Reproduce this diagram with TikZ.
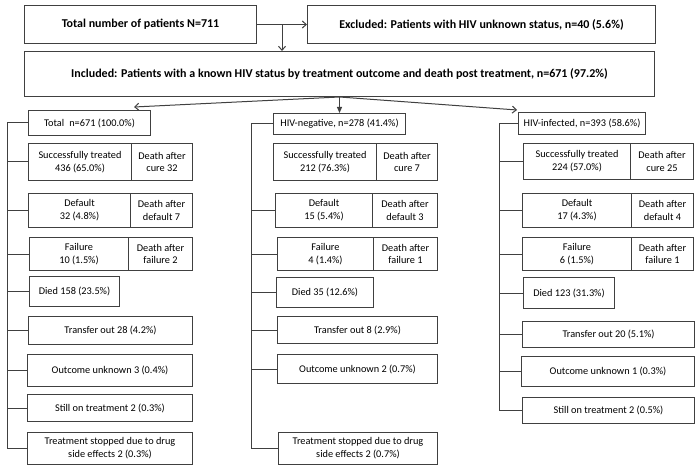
\documentclass[tikz,border=0pt]{standalone}
\usepackage{fontspec}
\setmainfont{Carlito}
\usetikzlibrary{arrows.meta,calc}
\definecolor{ln}{HTML}{404040}
\tikzset{
  box/.style={draw=ln, line width=1pt, anchor=north west, inner sep=1pt, align=center,
              font=\fontsize{10.3}{12.8}\selectfont, text=black},
  topbox/.style={box, font=\fontsize{12}{14}\selectfont\bfseries},
  conn/.style={draw=ln, line width=1pt},
  openarrow/.style={conn, -{Straight Barb[length=4pt,width=7pt]}},
  solidarrow/.style={conn, -{Triangle[length=6pt,width=5pt]}}
}
\newcommand\mybox[7]{\node[#1, minimum width={(#5-#3)*1pt}, minimum height={(#6-#4)*1pt}] (#2) at (#3,#4) {#7};}
\begin{document}
\begin{tikzpicture}[x=1pt,y=-1pt]
\useasboundingbox (0,0) rectangle (700,470);
% top
\mybox{topbox}{A}{24}{5}{256}{43}{Total number of patients N=711}
\mybox{topbox}{B}{307}{5}{655}{43}{Excluded: Patients with HIV unknown status, n=40 (5.6\%)}
\mybox{topbox}{C}{24}{51}{654}{96}{Included: Patients with a known HIV status by treatment outcome and death post treatment, n=671 (97.2\%)}
\draw[openarrow] (A.east) -- (B.west);
\coordinate (j) at ($(A.east)!0.5!(B.west)$);
\draw[openarrow] (j) -- (j |- C.north);
% left column
\mybox{box}{tot}{28}{110}{150}{135}{Total\enspace n=671 (100.0\%)}
\mybox{box}{Lsl}{28}{143}{131}{180}{Successfully treated\\436 (65.0\%)}
\mybox{box}{Lsr}{131}{143}{192}{180}{Death after\\cure 32}
\mybox{box}{Ldl}{28}{193}{130}{227}{Default\\32 (4.8\%)}
\mybox{box}{Ldr}{130}{193}{192}{227}{Death after\\default 7}
\mybox{box}{Lfl}{29}{237}{128}{270}{Failure\\10 (1.5\%)}
\mybox{box}{Lfr}{128}{237}{192}{270}{Death after\\failure 2}
\mybox{box}{Ldi}{29}{276}{119}{306}{Died 158 (23.5\%)}
\mybox{box}{Ltr}{28}{316}{192}{344}{Transfer out 28 (4.2\%)}
\mybox{box}{Lun}{27}{354}{192}{386}{Outcome unknown 3 (0.4\%)}
\mybox{box}{Lst}{27}{394}{192}{421}{Still on treatment 2 (0.3\%)}
\mybox{box}{Lsp}{27}{432}{192}{464}{Treatment stopped due to drug\\side effects 2 (0.3\%)}
\coordinate (sL) at (7,123);
\draw[conn] (sL |- tot.west) -- (sL |- Lsp.west);
\foreach \n in {tot,Lsl,Ldl,Lfl,Ldi,Ltr,Lun,Lst,Lsp} \draw[conn] (sL |- \n.west) -- (\n.west);
% middle column
\mybox{box}{neg}{273}{113}{405}{134}{HIV-negative, n=278 (41.4\%)}
\mybox{box}{Msl}{273}{143}{376}{180}{Successfully treated\\212 (76.3\%)}
\mybox{box}{Msr}{376}{143}{437}{180}{Death after\\cure 7}
\mybox{box}{Mdl}{275}{193}{372}{227}{Default\\15 (5.4\%)}
\mybox{box}{Mdr}{372}{193}{437}{227}{Death after\\default 3}
\mybox{box}{Mfl}{277}{237}{373}{270}{Failure\\4 (1.4\%)}
\mybox{box}{Mfr}{373}{237}{437}{270}{Death after\\failure 1}
\mybox{box}{Mdi}{276}{277}{373}{307}{Died 35 (12.6\%)}
\mybox{box}{Mtr}{277}{316}{437}{343}{Transfer out 8 (2.9\%)}
\mybox{box}{Mun}{277}{354}{437}{383}{Outcome unknown 2 (0.7\%)}
\mybox{box}{Msp}{278}{432}{437}{464}{Treatment stopped due to drug\\side effects 2 (0.7\%)}
\coordinate (sM) at (251,124);
\draw[conn] (sM |- neg.west) -- (sM |- Msp.west);
\foreach \n in {neg,Mdl,Mfl,Mdi,Mtr,Mun,Msp} \draw[conn] (sM |- \n.west) -- (\n.west);
% right column
\mybox{box}{inf}{518}{112}{645}{134}{HIV-infected, n=393 (58.6\%)}
\mybox{box}{Rsl}{523}{143}{630}{179}{Successfully treated\\224 (57.0\%)}
\mybox{box}{Rsr}{630}{143}{693}{179}{Death after\\cure 25}
\mybox{box}{Rdl}{522}{193}{631}{227}{Default\\17 (4.3\%)}
\mybox{box}{Rdr}{631}{193}{693}{227}{Death after\\default 4}
\mybox{box}{Rfl}{522}{237}{631}{270}{Failure\\6 (1.5\%)}
\mybox{box}{Rfr}{631}{237}{693}{270}{Death after\\failure 1}
\mybox{box}{Rdi}{523}{277}{614}{308}{Died 123 (31.3\%)}
\mybox{box}{Rtr}{522}{321}{694}{347}{Transfer out 20 (5.1\%)}
\mybox{box}{Run}{521}{356}{694}{386}{Outcome unknown 1 (0.3\%)}
\mybox{box}{Rst}{522}{397}{694}{423}{Still on treatment 2 (0.5\%)}
\coordinate (sR) at (499,124);
\draw[conn] (sR |- inf.west) -- (sR |- Rst.west);
\foreach \n in {inf,Rsl,Rdl,Rfl,Rdi,Rtr,Run,Rst} \draw[conn] (sR |- \n.west) -- (\n.west);
% arrows from included box
\draw[openarrow] (C.south) -- ([shift={(-17,-3)}]tot.north east);
\draw[solidarrow] (C.south) -- (neg.north);
\draw[openarrow] (C.south) -- ([shift={(-1,-2)}]inf.north west);
\end{tikzpicture}
\end{document}
